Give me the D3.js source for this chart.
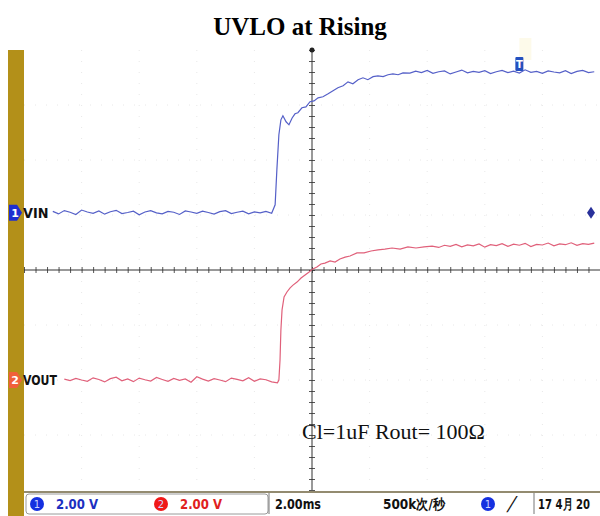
<!DOCTYPE html>
<html>
<head>
<meta charset="utf-8">
<script src="https://cdnjs.cloudflare.com/ajax/libs/d3/7.8.5/d3.min.js"></script>
<style>
  body { margin: 0; background: #fff; }
</style>
</head>
<body>
<div class="chart"></div>
<script>
// scope capture: 2.00 V/div both channels, 2.00 ms/div
var svgWidth = 600;
var svgHeight = 516;
var plot = {left: 24, right: 600, top: 50, bottom: 490};

var timeDomain = [-10, 10];   // ms, 10 divisions
var divDomain = [-4, 4];      // 8 vertical divisions
var voltsPerDiv = 2;
var ch1Offset = 1.04;         // divisions above centre
var ch2Offset = -2.0;

// channel 1 (VIN) samples, time in ms, volts
var vinTime = [-9.0,-8.8,-8.6,-8.4,-8.2,-8.0,-7.8,-7.6,-7.4,-7.2,-7.0,-6.8,-6.6,-6.4,-6.2,-6.0,-5.8,-5.6,-5.4,-5.2,
  -5.0,-4.8,-4.6,-4.4,-4.2,-4.0,-3.8,-3.6,-3.4,-3.2,-3.0,-2.8,-2.6,-2.4,-2.2,-2.0,-1.8,-1.6,-1.4,
  -1.28,-1.22,-1.15,-1.08,-1.01,-0.90,-0.80,-0.69,-0.59,-0.49,-0.35,-0.21,-0.07,0.07,0.21,0.38,0.56,0.73,0.90,1.08,
  1.25,1.42,1.60,1.77,1.94,2.12,2.29,2.47,2.64,2.81,2.99,3.16,
  3.4,3.6,3.8,4.0,4.2,4.4,4.6,4.8,5.0,5.2,5.4,5.6,5.8,6.0,6.2,6.4,6.6,6.8,7.0,7.2,7.4,7.6,7.8,8.0,8.2,8.4,8.6,8.8,9.0,9.2,9.4,9.6,9.8];
var vinVolts = [0.05,-0.04,0.08,0.02,-0.06,0.10,0.03,-0.02,0.07,-0.05,0.04,0.09,-0.03,0.01,0.06,-0.07,0.03,0.08,0.00,-0.04,
  0.05,0.02,-0.06,0.07,0.03,-0.02,0.06,0.01,-0.05,0.04,0.08,-0.03,0.02,0.06,-0.04,0.03,0.00,0.05,-0.02,
  0.29,1.56,2.84,3.38,3.53,3.31,3.20,3.45,3.60,3.64,3.82,3.85,4.04,4.07,4.18,4.22,4.33,4.44,4.55,4.62,
  4.76,4.69,4.84,4.91,4.84,4.95,4.98,4.95,5.02,5.05,5.02,5.09,
  5.08,5.15,5.10,5.18,5.07,5.13,5.16,5.05,5.12,5.19,5.09,5.14,5.11,5.17,5.06,5.13,5.18,5.10,5.15,5.08,5.20,5.11,5.14,5.07,5.16,5.12,5.09,5.17,5.06,5.14,5.18,5.10,5.13];

// channel 2 (VOUT) samples
var voutTime = [-8.6,-8.4,-8.2,-8.0,-7.8,-7.6,-7.4,-7.2,-7.0,-6.8,-6.6,-6.4,-6.2,-6.0,-5.8,-5.6,-5.4,-5.2,-5.0,-4.8,
  -4.6,-4.4,-4.2,-4.0,-3.8,-3.6,-3.4,-3.2,-3.0,-2.8,-2.6,-2.4,-2.2,-2.0,-1.8,-1.6,-1.4,-1.2,
  -1.15,-1.11,-1.08,-1.04,-0.97,-0.87,-0.76,-0.66,-0.52,-0.38,-0.24,-0.10,0.03,0.17,0.31,0.45,0.63,0.80,0.97,1.15,
  1.32,1.56,1.81,2.05,2.29,2.53,2.78,3.06,3.33,3.61,3.89,4.17,
  4.4,4.6,4.8,5.0,5.2,5.4,5.6,5.8,6.0,6.2,6.4,6.6,6.8,7.0,7.2,7.4,7.6,7.8,8.0,8.2,8.4,8.6,8.8,9.0,9.2,9.4,9.6,9.8];
var voutVolts = [0.03,-0.02,0.06,0.00,-0.05,0.08,0.02,-0.07,0.05,0.10,-0.03,0.04,-0.06,0.07,0.01,-0.04,0.09,0.02,-0.05,0.06,
  -0.01,0.04,-0.08,0.12,0.03,-0.04,0.05,0.00,-0.06,0.07,0.02,-0.03,0.08,-0.05,0.04,0.01,-0.07,-0.10,
  0.00,0.73,1.82,2.55,3.02,3.20,3.35,3.45,3.56,3.71,3.82,3.93,4.04,4.11,4.22,4.25,4.33,4.29,4.40,4.47,
  4.51,4.62,4.62,4.69,4.73,4.76,4.80,4.76,4.84,4.80,4.84,4.87,
  4.82,4.90,4.86,4.93,4.84,4.91,4.88,4.95,4.83,4.92,4.89,4.96,4.86,4.94,4.90,4.97,4.85,4.93,4.91,4.98,4.88,4.95,4.92,4.99,4.90,4.96,4.93,4.98];

// status bar texts
var titleText = "UVLO at Rising";
var noteText = "Cl=1uF Rout= 100\u03A9";
var ch1Scale = "2.00 V";
var ch2Scale = "2.00 V";
var timeScale = "2.00ms";
var sampleRate = "500k\u6B21/\u79D2";
var dateText = "17 4\u6708 20";

var svg = d3.select('.chart')
  .append('svg')
  .attr('width', svgWidth)
  .attr('height', svgHeight)
  .style('display', 'block');

var xScale = d3.scaleLinear().domain(timeDomain).range([plot.left, plot.right]);
var divScale = d3.scaleLinear().domain(divDomain).range([plot.bottom, plot.top]);

function chY(offset) {
  return function(v) { return divScale(v / voltsPerDiv + offset); };
}

// title
svg.append('text')
  .attr('x', 300)
  .attr('y', 35)
  .attr('text-anchor', 'middle')
  .style('font-family', '"Liberation Serif", "Times New Roman", serif')
  .style('font-weight', 'bold')
  .style('font-size', '25px')
  .text(titleText);

// faint dotted grid
var gridT = d3.range(-8, 9, 2).filter(function(d) { return d !== 0; });
var gridD = d3.range(-3, 4, 1).filter(function(d) { return d !== 0; });
svg.append('g').selectAll('line').data(gridT).enter().append('line')
  .attr('x1', function(d) { return xScale(d); })
  .attr('x2', function(d) { return xScale(d); })
  .attr('y1', plot.top).attr('y2', plot.bottom)
  .attr('stroke', '#e8e8e8').attr('stroke-dasharray', '1,10');
svg.append('g').selectAll('line').data(gridD).enter().append('line')
  .attr('y1', function(d) { return divScale(d); })
  .attr('y2', function(d) { return divScale(d); })
  .attr('x1', plot.left).attr('x2', plot.right)
  .attr('stroke', '#e8e8e8').attr('stroke-dasharray', '1,10');

// centre cross axes with minor ticks
var yZero = divScale(0);
var xZero = xScale(0);
var minorT = d3.range(-10, 10.001, 0.4);
var minorD = d3.range(-4, 4.001, 0.2);

var xAxis = svg.append('g')
  .attr('transform', 'translate(0,' + (yZero - 3) + ')')
  .call(d3.axisBottom(xScale).tickValues(minorT).tickSize(6).tickSizeOuter(0).tickFormat(''));
xAxis.select('.domain').remove();
xAxis.selectAll('line').attr('stroke', '#555');

var yAxis = svg.append('g')
  .attr('transform', 'translate(' + (xZero - 3) + ',0)')
  .call(d3.axisRight(divScale).tickValues(minorD).tickSize(6).tickSizeOuter(0).tickFormat(''));
yAxis.select('.domain').remove();
yAxis.selectAll('line').attr('stroke', '#555');

svg.append('line')
  .attr('x1', plot.left).attr('x2', plot.right)
  .attr('y1', yZero).attr('y2', yZero)
  .attr('stroke', '#333').attr('stroke-width', 1);
svg.append('line')
  .attr('x1', xZero).attr('x2', xZero)
  .attr('y1', plot.top).attr('y2', plot.bottom)
  .attr('stroke', '#333').attr('stroke-width', 1);

// trigger position marker at the top
svg.append('circle')
  .attr('cx', xZero).attr('cy', plot.top)
  .attr('r', 2.5).attr('fill', '#222');

// traces
var line = d3.line().curve(d3.curveLinear);
var vinPts = d3.zip(vinTime, vinVolts).map(function(d) { return [xScale(d[0]), chY(ch1Offset)(d[1])]; });
var voutPts = d3.zip(voutTime, voutVolts).map(function(d) { return [xScale(d[0]), chY(ch2Offset)(d[1])]; });

svg.append('path')
  .attr('d', line(voutPts))
  .attr('fill', 'none')
  .attr('stroke', '#e0607a')
  .attr('stroke-width', 1.2);
svg.append('path')
  .attr('d', line(vinPts))
  .attr('fill', 'none')
  .attr('stroke', '#5560c8')
  .attr('stroke-width', 1.2);

// trigger marker on top trace
var trigX = xScale(7.2);
svg.append('rect')
  .attr('x', trigX).attr('y', 38)
  .attr('width', 12).attr('height', 22)
  .attr('fill', '#fdfaea');
svg.append('rect')
  .attr('x', trigX - 4).attr('y', 57)
  .attr('width', 8).attr('height', 14)
  .attr('rx', 1)
  .attr('fill', '#2450c0');
svg.append('text')
  .attr('x', trigX).attr('y', 68)
  .attr('text-anchor', 'middle')
  .attr('fill', '#fff')
  .style('font-family', '"DejaVu Sans", sans-serif')
  .style('font-size', '10px')
  .style('font-weight', 'bold')
  .text('T');

// trigger level marker at right
var lvlY = chY(ch1Offset)(0);
svg.append('path')
  .attr('d', 'M591,' + (lvlY - 6) + ' L595,' + lvlY + ' L591,' + (lvlY + 6) + ' L587,' + lvlY + ' Z')
  .attr('fill', '#28309a');

// left gold strip
svg.append('rect')
  .attr('x', 8).attr('y', plot.top)
  .attr('width', 16).attr('height', svgHeight - plot.top)
  .attr('fill', '#b39019');

// channel markers and labels
function chMarker(y, fill, num, label) {
  svg.append('path')
    .attr('d', 'M9,' + (y - 8) + ' L17,' + (y - 8) + ' L22,' + y + ' L17,' + (y + 8) + ' L9,' + (y + 8) + ' Z')
    .attr('fill', fill);
  svg.append('text')
    .attr('x', 15).attr('y', y + 4)
    .attr('text-anchor', 'middle')
    .attr('fill', '#fff')
    .style('font-family', '"DejaVu Sans", sans-serif')
    .style('font-weight', 'bold')
    .style('font-size', '11px')
    .text(num);
  svg.append('text')
    .attr('x', 23).attr('y', y + 5)
    .attr('textLength', label.length * 8.5)
    .attr('lengthAdjust', 'spacingAndGlyphs')
    .style('font-family', '"DejaVu Sans", sans-serif')
    .style('font-weight', 'bold')
    .style('font-size', '14px')
    .attr('fill', '#111')
    .text(label);
}
chMarker(chY(ch1Offset)(0), '#1f2fd0', '1', 'VIN');
chMarker(chY(ch2Offset)(0), '#f0603a', '2', 'VOUT');

// annotation
svg.append('text')
  .attr('x', 302)
  .attr('y', 439)
  .style('font-family', '"Liberation Serif", "Times New Roman", serif')
  .style('font-size', '22px')
  .attr('fill', '#111')
  .text(noteText);

// status bar
var barY = plot.bottom + 2;
svg.append('line')
  .attr('x1', plot.left).attr('x2', plot.right)
  .attr('y1', barY).attr('y2', barY)
  .attr('stroke', '#6f6440').attr('stroke-width', 1.5);
svg.append('rect')
  .attr('x', plot.left + 2).attr('y', barY + 2)
  .attr('width', 242).attr('height', 20)
  .attr('rx', 3)
  .attr('fill', '#fff').attr('stroke', '#9a9a9a');
svg.append('line')
  .attr('x1', 269).attr('x2', 269).attr('y1', barY + 1).attr('y2', barY + 22)
  .attr('stroke', '#777');
svg.append('line')
  .attr('x1', 534).attr('x2', 534).attr('y1', barY + 1).attr('y2', barY + 22)
  .attr('stroke', '#777');

var statusFont = '"DejaVu Sans", sans-serif';
var sy = barY + 12;

function statusDot(cx, fill, num) {
  svg.append('circle').attr('cx', cx).attr('cy', sy).attr('r', 7).attr('fill', fill);
  if (num) {
    svg.append('text')
      .attr('x', cx).attr('y', sy + 4)
      .attr('text-anchor', 'middle')
      .attr('fill', '#cfd6ff')
      .style('font-family', statusFont)
      .style('font-size', '10px')
      .text(num);
  }
}
function statusText(x, color, txt, w) {
  var t = svg.append('text')
    .attr('x', x).attr('y', sy + 5)
    .attr('fill', color)
    .style('font-family', statusFont)
    .style('font-weight', 'bold')
    .style('font-size', '14px')
    .text(txt);
  if (w) t.attr('textLength', w).attr('lengthAdjust', 'spacingAndGlyphs');
  return t;
}

statusDot(37, '#1530e0', '1');
statusText(56, '#1c2fc0', ch1Scale, 42);
statusDot(161, '#f01818', '2');
statusText(180, '#e02020', ch2Scale, 42);
statusText(275, '#111', timeScale, 46);
statusText(383, '#111', sampleRate, 62);
statusDot(488, '#1530e0', '1');
statusText(507, '#111', '\u2571', 10);

// date squeezed horizontally so it stays inside the frame
svg.append('g')
  .attr('transform', 'translate(538,' + (sy + 5) + ') scale(0.72,1)')
  .append('text')
  .attr('fill', '#111')
  .style('font-family', statusFont)
  .style('font-weight', 'bold')
  .style('font-size', '14px')
  .text(dateText);
</script>
</body>
</html>
